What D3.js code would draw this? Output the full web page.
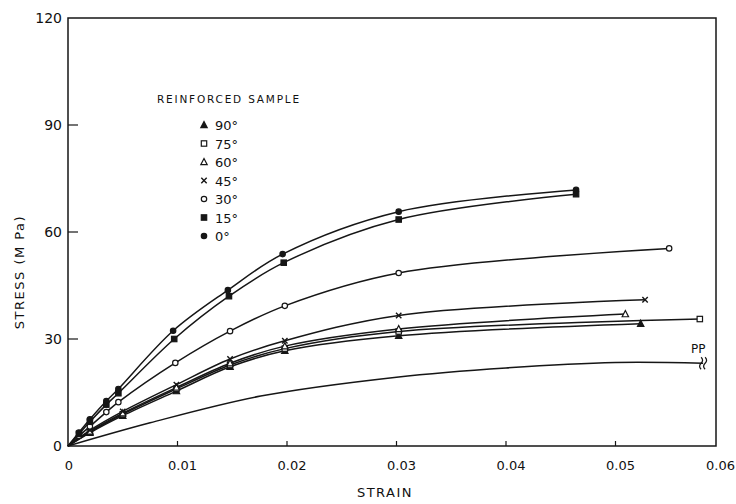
<!DOCTYPE html>
<html>
<head>
<meta charset="utf-8">
<script src="https://cdn.jsdelivr.net/npm/d3@7"></script>
<style>
  body { margin: 0; background: #fff; }
  svg { display: block; }
  text { font-family: "DejaVu Sans", sans-serif; fill: #111; }
</style>
</head>
<body>
<script>
// Stress-strain readings, one array per fibre angle
const angles = ["90°", "75°", "60°", "45°", "30°", "15°", "0°"];
const markers = ["triFill", "square", "tri", "cross", "circle", "squareFill", "circleFill"];

const s0 = [[0,0],[0.001,3.8],[0.002,7.5],[0.0035,12.6],[0.0046,16],[0.0096,32.3],[0.0146,43.7],[0.0196,53.8],[0.0302,65.7],[0.0464,71.8]];
const s15 = [[0,0],[0.001,3.4],[0.002,6.8],[0.0035,11.6],[0.0046,14.8],[0.0097,30],[0.0147,42],[0.0197,51.4],[0.0302,63.5],[0.0464,70.6]];
const s30 = [[0,0],[0.001,2.8],[0.002,5.5],[0.0035,9.5],[0.0046,12.3],[0.0098,23.3],[0.0148,32.2],[0.0198,39.3],[0.0302,48.5],[0.0549,55.4]];
const s45 = [[0,0],[0.002,4.4],[0.005,9.7],[0.0099,17.2],[0.0148,24.4],[0.0198,29.5],[0.0302,36.6],[0.0527,41]];
const s60 = [[0,0],[0.002,4.1],[0.005,9.2],[0.0099,16.4],[0.0148,23.2],[0.0198,28],[0.0302,32.8],[0.0509,37]];
const s75 = [[0,0],[0.002,3.9],[0.005,8.9],[0.0099,16],[0.0148,22.7],[0.0198,27.3],[0.0302,32.1],[0.0577,35.6]];
const s90 = [[0,0],[0.002,3.7],[0.005,8.5],[0.0099,15.4],[0.0148,22.2],[0.0198,26.7],[0.0302,30.9],[0.0523,34.3]];
const pp = [[0,0],[0.0075,6.5],[0.0176,14],[0.03,19.3],[0.04,21.9],[0.05,23.4],[0.058,23.2]];

const seriesValues = [s90, s75, s60, s45, s30, s15, s0];

const xTicks = [0, 0.01, 0.02, 0.03, 0.04, 0.05, 0.06];
const xTickLabels = ["0", "0.01", "0.02", "0.03", "0.04", "0.05", "0.06"];
const yTicks = [0, 30, 60, 90, 120];

const width = 736, height = 504;
const plotLeft = 68, plotRight = 716, plotTop = 18, plotBottom = 446;

const svg = d3.select("body").append("svg")
    .attr("width", width)
    .attr("height", height);

const x = d3.scaleLinear().domain([0, 0.06]).range([plotLeft, 725]);
const y = d3.scaleLinear().domain([0, 120]).range([plotBottom, plotTop]);

const ink = "#161616";

// frame
svg.append("rect")
    .attr("x", plotLeft).attr("y", plotTop)
    .attr("width", plotRight - plotLeft).attr("height", plotBottom - plotTop)
    .attr("fill", "none").attr("stroke", ink).attr("stroke-width", 1.5);

// x axis ticks (pointing inward) and labels
svg.selectAll(".xt").data(xTicks.slice(1, 6)).enter().append("line")
    .attr("x1", d => x(d)).attr("x2", d => x(d))
    .attr("y1", plotBottom).attr("y2", plotBottom - 5)
    .attr("stroke", ink).attr("stroke-width", 1.2);

svg.selectAll(".xl").data(xTicks).enter().append("text")
    .attr("x", (d, i) => i === 0 ? x(d) + 1 : (i === 6 ? 735 : x(d) + 5))
    .attr("y", 470)
    .attr("text-anchor", (d, i) => i === 6 ? "end" : "middle")
    .style("font-size", "13px")
    .text((d, i) => xTickLabels[i]);

// y axis ticks and labels
svg.selectAll(".yt").data(yTicks.slice(1, 4)).enter().append("line")
    .attr("x1", plotLeft).attr("x2", plotLeft + 10)
    .attr("y1", d => y(d)).attr("y2", d => y(d))
    .attr("stroke", ink).attr("stroke-width", 1.2);

svg.selectAll(".yl").data(yTicks).enter().append("text")
    .attr("x", 62)
    .attr("y", d => y(d) + 5)
    .attr("text-anchor", "end")
    .style("font-size", "14px")
    .text(d => d);

// axis titles
svg.append("text")
    .attr("x", 385).attr("y", 497)
    .attr("text-anchor", "middle")
    .style("font-size", "13px")
    .style("letter-spacing", "1.5px")
    .text("STRAIN");

svg.append("text")
    .attr("transform", "translate(24,272) rotate(-90)")
    .attr("text-anchor", "middle")
    .style("font-size", "13px")
    .style("letter-spacing", "1.5px")
    .text("STRESS (M Pa)");

// curves
const line = d3.line()
    .x(d => x(d[0]))
    .y(d => y(d[1]))
    .curve(d3.curveCatmullRom.alpha(0.5));

const curves = seriesValues.concat([pp]);
svg.selectAll(".curve").data(curves).enter().append("path")
    .attr("d", line)
    .attr("fill", "none")
    .attr("stroke", ink)
    .attr("stroke-width", 1.5);

// marker drawing
function drawMarker(g, type, cx, cy) {
    const s = 2.7;
    if (type === "circleFill" || type === "circle") {
        g.append("circle").attr("cx", cx).attr("cy", cy).attr("r", s)
            .attr("fill", type === "circle" ? "#fff" : ink)
            .attr("stroke", ink).attr("stroke-width", 1.2);
    } else if (type === "squareFill" || type === "square") {
        g.append("rect").attr("x", cx - s).attr("y", cy - s)
            .attr("width", 2 * s).attr("height", 2 * s)
            .attr("fill", type === "square" ? "#fff" : ink)
            .attr("stroke", ink).attr("stroke-width", 1.2);
    } else if (type === "triFill" || type === "tri") {
        g.append("path")
            .attr("d", `M${cx},${cy - s - 0.8}L${cx + s + 0.5},${cy + s}L${cx - s - 0.5},${cy + s}Z`)
            .attr("fill", type === "tri" ? "#fff" : ink)
            .attr("stroke", ink).attr("stroke-width", 1.2);
    } else if (type === "cross") {
        g.append("path")
            .attr("d", `M${cx - s},${cy - s}L${cx + s},${cy + s}M${cx + s},${cy - s}L${cx - s},${cy + s}`)
            .attr("stroke", ink).attr("stroke-width", 1.4);
    }
}

const markG = svg.append("g");
seriesValues.forEach((vals, i) => {
    vals.slice(1).forEach(d => drawMarker(markG, markers[i], x(d[0]), y(d[1])));
});

// PP label and break mark
const ppEnd = pp[pp.length - 1];
svg.append("text")
    .attr("x", x(ppEnd[0]) - 12).attr("y", y(ppEnd[1]) - 10)
    .style("font-size", "12px")
    .text("PP");
svg.append("path")
    .attr("d", `M${x(ppEnd[0]) - 2},${y(ppEnd[1]) - 6}q3,3 0,6q-3,3 0,6M${x(ppEnd[0]) + 2},${y(ppEnd[1]) - 6}q3,3 0,6q-3,3 0,6`)
    .attr("fill", "none").attr("stroke", ink).attr("stroke-width", 1.2);

// legend
svg.append("text")
    .attr("x", 157).attr("y", 103)
    .style("font-size", "10.5px")
    .style("letter-spacing", "1.8px")
    .text("REINFORCED SAMPLE");

const leg = svg.append("g");
angles.forEach((a, i) => {
    const ly = 125 + i * 18.5;
    drawMarker(leg, markers[i], 204, ly);
    leg.append("text")
        .attr("x", 215).attr("y", ly + 5)
        .style("font-size", "13px")
        .text(a);
});
</script>
</body>
</html>
